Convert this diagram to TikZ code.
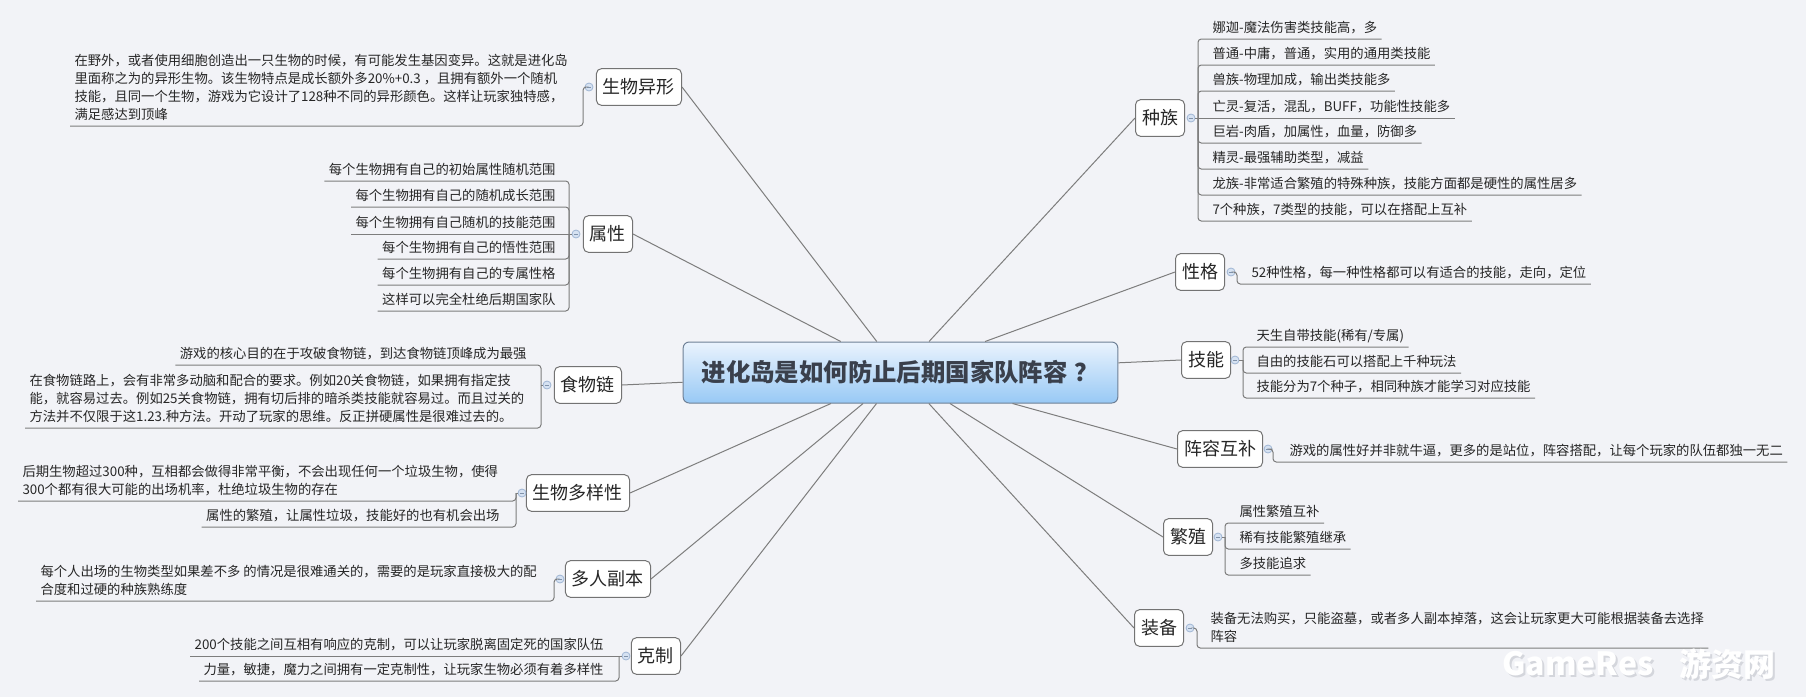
\documentclass[tikz,border=0pt]{standalone}
\usepackage{fontspec}
\setmainfont{Noto Sans CJK SC}

\definecolor{bgcol}{RGB}{242,243,247}
\definecolor{wire}{RGB}{125,125,125}
\definecolor{boxline}{RGB}{115,115,115}
\definecolor{inktext}{RGB}{38,38,38}
\definecolor{titleink}{RGB}{58,64,76}
\definecolor{roottop}{RGB}{234,243,253}
\definecolor{rootbot}{RGB}{152,201,245}
\definecolor{rootline}{RGB}{110,128,150}
\definecolor{foldfill}{RGB}{214,226,242}
\definecolor{foldline}{RGB}{160,182,212}
\definecolor{stampshade}{RGB}{212,214,220}

\tikzset{every picture/.style={line width=0.75pt}}
\tikzset{
	root/.style={draw=rootline, top color=roottop, bottom color=rootbot, rounded corners=4.5pt,
		minimum width=326pt, minimum height=45.75pt, text=titleink,
		font=\fontsize{18.3pt}{22pt}\selectfont\bfseries},
	topic/.style={draw=boxline, fill=white, rounded corners=3.75pt, inner xsep=4.9pt,
		minimum height=27.5pt, text=inktext, font=\fontsize{13.5pt}{16pt}\selectfont},
	leaf/.style={inner xsep=3pt, inner ysep=3.3pt, text depth=1.5pt, text=inktext,
		font=\fontsize{10pt}{13.5pt}\selectfont},
	para/.style={inner xsep=3pt, inner ysep=3.5pt, align=left, text=inktext,
		font=\fontsize{10pt}{13.5pt}\selectfont},
	fold/.style={circle, draw=foldline, fill=foldfill, minimum size=6pt, inner sep=0pt, line width=0.6pt,
		path picture={\draw [foldline!80!black, line width=0.6pt]
			([xshift=-1.6pt]path picture bounding box.center) -- ([xshift=1.6pt]path picture bounding box.center);}},
	bough/.style={draw=wire, line width=0.75pt},
	twig/.style={draw=wire, line width=0.75pt, rounded corners=2.5pt},
	stamp/.style={inner sep=0pt, font=\fontsize{24pt}{26pt}\selectfont\bfseries},
}

\begin{document}
\begin{tikzpicture}[x=0.75pt,y=0.75pt,yscale=-1,xscale=1]
	\useasboundingbox (0,0) rectangle (1806,697);
	\fill [bgcol] (0,0) rectangle (1806,697);

	% Text Node
	\draw (900.5,372.5) node [root] (root) {进化岛是如何防止后期国家队阵容\hspace{0.3em}？};

	% Text Node
	\draw (1135,118) node [topic, anchor=west] (zz) {种族};
	% Text Node
	\draw (1175,272) node [topic, anchor=west] (xg) {性格};
	% Text Node
	\draw (1181,360) node [topic, anchor=west] (jn) {技能};
	% Text Node
	\draw (1177,449) node [topic, anchor=west] (zr) {阵容互补};
	% Text Node
	\draw (1163,537) node [topic, anchor=west] (fz) {繁殖};
	% Text Node
	\draw (1134,628) node [topic, anchor=west] (zb) {装备};

	% Text Node
	\draw (682,87) node [topic, anchor=east] (yx) {生物异形};
	% Text Node
	\draw (633,234) node [topic, anchor=east] (sx) {属性};
	% Text Node
	\draw (622,385) node [topic, anchor=east] (sw) {食物链};
	% Text Node
	\draw (630,493) node [topic, anchor=east] (dy) {生物多样性};
	% Text Node
	\draw (651,579) node [topic, anchor=east] (fb) {多人副本};
	% Text Node
	\draw (681,656) node [topic, anchor=east] (kz) {克制};

	%Straight Lines
	\draw [bough] (root) -- (zz.west);
	\draw [bough] (root) -- (xg.west);
	\draw [bough] (root) -- (jn.west);
	\draw [bough] (root) -- (zr.west);
	\draw [bough] (root) -- (fz.west);
	\draw [bough] (root) -- (zb.west);
	\draw [bough] (root) -- (yx.east);
	\draw [bough] (root) -- (sx.east);
	\draw [bough] (root) -- (sw.east);
	\draw [bough] (root) -- (dy.east);
	\draw [bough] (root) -- (fb.east);
	\draw [bough] (root) -- (kz.east);

	%Shape: Circle
	\draw (1191,118) node [fold] (f-zz) {};
	\draw (1231,272) node [fold] (f-xg) {};
	\draw (1235,360) node [fold] (f-jn) {};
	\draw (1268,449) node [fold] (f-zr) {};
	\draw (1218,537) node [fold] (f-fz) {};
	\draw (1190,628) node [fold] (f-zb) {};
	\draw (589,87) node [fold] (f-yx) {};
	\draw (576,234) node [fold] (f-sx) {};
	\draw (547,385) node [fold] (f-sw) {};
	\draw (522,493) node [fold] (f-dy) {};
	\draw (560,579) node [fold] (f-fb) {};
	\draw (626,656) node [fold] (f-kz) {};

	\coordinate (j-zz) at (1198,118);
	\coordinate (j-xg) at (1237,272);
	\coordinate (j-jn) at (1243,360);
	\coordinate (j-zr) at (1273,449);
	\coordinate (j-fz) at (1225,537);
	\coordinate (j-zb) at (1197,628);
	\coordinate (j-yx) at (583,87);
	\coordinate (j-sx) at (569,234);
	\coordinate (j-sw) at (541,385);
	\coordinate (j-dy) at (516,493);
	\coordinate (j-fb) at (554,579);
	\coordinate (j-kz) at (619,656);

	% Text Node
	\draw (1208,39) node [leaf, anchor=south west] (zz1) {娜迦-魔法伤害类技能高，多};
	\draw (1208,65) node [leaf, anchor=south west] (zz2) {普通-中庸，普通，实用的通用类技能};
	\draw (1208,91) node [leaf, anchor=south west] (zz3) {兽族-物理加成，输出类技能多};
	\draw (1208,118) node [leaf, anchor=south west] (zz4) {亡灵-复活，混乱，BUFF，功能性技能多};
	\draw (1208,143) node [leaf, anchor=south west] (zz5) {巨岩-肉盾，加属性，血量，防御多};
	\draw (1208,169) node [leaf, anchor=south west] (zz6) {精灵-最强辅助类型，减益};
	\draw (1208,195) node [leaf, anchor=south west] (zz7) {龙族-非常适合繁殖的特殊种族，技能方面都是硬性的属性居多};
	\draw (1208,221) node [leaf, anchor=south west] (zz8) {7个种族，7类型的技能，可以在搭配上互补};
	% Text Node
	\draw (1247,284) node [leaf, anchor=south west] (xg1) {52种性格，每一种性格都可以有适合的技能，走向，定位};
	% Text Node
	\draw (1252,347) node [leaf, anchor=south west] (jn1) {天生自带技能(稀有/专属)};
	\draw (1252,373) node [leaf, anchor=south west] (jn2) {自由的技能石可以搭配上千种玩法};
	\draw (1252,398) node [leaf, anchor=south west] (jn3) {技能分为7个种子，相同种族才能学习对应技能};
	% Text Node
	\draw (1285,462) node [leaf, anchor=south west] (zr1) {游戏的属性好并非就牛逼，更多的是站位，阵容搭配，让每个玩家的队伍都独一无二};
	% Text Node
	\draw (1235,523) node [leaf, anchor=south west] (fz1) {属性繁殖互补};
	\draw (1235,549) node [leaf, anchor=south west] (fz2) {稀有技能繁殖继承};
	\draw (1235,575) node [leaf, anchor=south west] (fz3) {多技能追求};
	% Text Node
	\draw (1206,648) node [para, anchor=south west] (zb1) {装备无法购买，只能盗墓，或者多人副本掉落，这会让玩家更大可能根据装备去选择\\阵容};

	% Text Node
	\draw (70,126) node [para, anchor=south west] (yx1) {在野外，或者使用细胞创造出一只生物的时候，有可能发生基因变异。这就是进化岛\\里面称之为的异形生物。该生物特点是成长额外多20\%+0.3 ，且拥有额外一个随机\\技能，且同一个生物，游戏为它设计了128种不同的异形颜色。这样让玩家独特感，\\满足感达到顶峰};
	% Text Node
	\draw (560,181) node [leaf, anchor=south east] (sx1) {每个生物拥有自己的初始属性随机范围};
	\draw (560,207) node [leaf, anchor=south east] (sx2) {每个生物拥有自己的随机成长范围};
	\draw (560,234) node [leaf, anchor=south east] (sx3) {每个生物拥有自己随机的技能范围};
	\draw (560,259) node [leaf, anchor=south east] (sx4) {每个生物拥有自己的悟性范围};
	\draw (560,285) node [leaf, anchor=south east] (sx5) {每个生物拥有自己的专属性格};
	\draw (560,311) node [leaf, anchor=south east] (sx6) {这样可以完全杜绝后期国家队};
	% Text Node
	\draw (531,365) node [leaf, anchor=south east] (sw1) {游戏的核心目的在于攻破食物链，到达食物链顶峰成为最强};
	\draw (25,428) node [para, anchor=south west] (sw2) {在食物链路上，会有非常多动脑和配合的要求。例如20关食物链，如果拥有指定技\\能，就容易过去。例如25关食物链，拥有切后排的暗杀类技能就容易过。而且过关的\\方法并不仅限于这1.23.种方法。开动了玩家的思维。反正拼硬属性是很难过去的。};
	% Text Node
	\draw (18,501) node [para, anchor=south west] (dy1) {后期生物超过300种，互相都会做得非常平衡，不会出现任何一个垃圾生物，使得\\300个都有很大可能的出场机率，杜绝垃圾生物的存在};
	\draw (504,527) node [leaf, anchor=south east] (dy2) {属性的繁殖，让属性垃圾，技能好的也有机会出场};
	% Text Node
	\draw (36,601) node [para, anchor=south west] (fb1) {每个人出场的生物类型如果差不多 的情况是很难通关的，需要的是玩家直接极大的配\\合度和过硬的种族熟练度};
	% Text Node
	\draw (608,656) node [leaf, anchor=south east] (kz1) {200个技能之间互相有响应的克制，可以让玩家脱离固定死的国家队伍};
	\draw (608,681) node [leaf, anchor=south east] (kz2) {力量，敏捷，魔力之间拥有一定克制性，让玩家生物必须有着多样性};

	%Straight Lines
	\draw [twig] (f-zz) -- (j-zz);
	\draw [twig] (j-zz) |- (zz1.south east);
	\draw [twig] (j-zz) |- (zz2.south east);
	\draw [twig] (j-zz) |- (zz3.south east);
	\draw [twig] (j-zz) -- (zz4.south east);
	\draw [twig] (j-zz) |- (zz5.south east);
	\draw [twig] (j-zz) |- (zz6.south east);
	\draw [twig] (j-zz) |- (zz7.south east);
	\draw [twig] (j-zz) |- (zz8.south east);
	\draw [twig] (f-xg) -- (j-xg) |- (xg1.south east);
	\draw [twig] (f-jn) -- (j-jn);
	\draw [twig] (j-jn) |- (jn1.south east);
	\draw [twig] (j-jn) |- (jn2.south east);
	\draw [twig] (j-jn) |- (jn3.south east);
	\draw [twig] (f-zr) -- (j-zr) |- (zr1.south east);
	\draw [twig] (f-fz) -- (j-fz);
	\draw [twig] (j-fz) |- (fz1.south east);
	\draw [twig] (j-fz) |- (fz2.south east);
	\draw [twig] (j-fz) |- (fz3.south east);
	\draw [twig] (f-zb) -- (j-zb) |- (zb1.south east);

	\draw [twig] (f-yx) -- (j-yx) |- (yx1.south west);
	\draw [twig] (f-sx) -- (j-sx);
	\draw [twig] (j-sx) |- (sx1.south west);
	\draw [twig] (j-sx) |- (sx2.south west);
	\draw [twig] (j-sx) -- (sx3.south west);
	\draw [twig] (j-sx) |- (sx4.south west);
	\draw [twig] (j-sx) |- (sx5.south west);
	\draw [twig] (j-sx) |- (sx6.south west);
	\draw [twig] (f-sw) -- (j-sw);
	\draw [twig] (j-sw) |- (sw1.south west);
	\draw [twig] (j-sw) |- (sw2.south west);
	\draw [twig] (f-dy) -- (j-dy);
	\draw [twig] (j-dy) |- (dy1.south west);
	\draw [twig] (j-dy) |- (dy2.south west);
	\draw [twig] (f-fb) -- (j-fb) |- (fb1.south west);
	\draw [twig] (f-kz) -- (j-kz);
	\draw [twig] (j-kz) -- (kz1.south west);
	\draw [twig] (j-kz) |- (kz2.south west);

	% Text Node
	\draw (1504,666) node [stamp, anchor=west, text=stampshade] (wm1s) {GameRes};
	\draw (1502,664) node [stamp, anchor=west, text=white] (wm1) {GameRes};
	\draw (1681,666) node [stamp, anchor=west, text=stampshade] (wm2s) {游资网};
	\draw (1679,664) node [stamp, anchor=west, text=white] (wm2) {游资网};

\end{tikzpicture}
\end{document}
